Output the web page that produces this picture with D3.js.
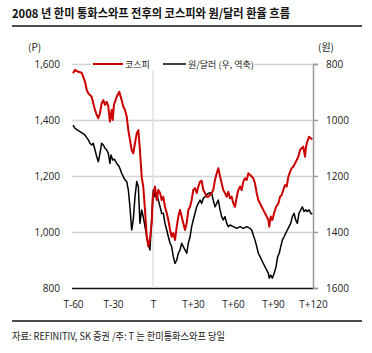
<!DOCTYPE html>
<html>
<head>
<meta charset="utf-8">
<script src="https://cdn.jsdelivr.net/npm/d3@7.9.0/dist/d3.min.js"></script>
<style>
  body { margin: 0; background: #fff; }
  svg { display: block; font-family: "Noto Sans CJK KR", "Noto Sans", sans-serif; }
</style>
</head>
<body>
<svg id="chart" width="372" height="353"></svg>
<script>
// days relative to swap date (T) and values
const kospiDays = [-60, -58.5, -56, -53.5, -51, -49.7, -48.5, -47.3, -46, -44.8, -43.5, -42.2, -41, -39.8, -38.5, -37.3, -36, -34.7, -33.5, -32.3, -31, -30.2, -29.3, -27.2, -25.3, -23.5, -22.3, -21, -19.7, -18.5, -17.3, -16, -14.8, -13.5, -12.2, -11, -9.8, -8.5, -7.3, -6, -4.7, -3.5, -2.3, -1, -0.2, 1.5, 2.8, 4, 5.3, 6.5, 7.7, 9, 10.3, 11.5, 12.8, 14, 15.2, 16.5, 17.8, 19, 20.3, 21.5, 22.7, 24, 25.3, 26.5, 27.8, 29, 30.2, 31.5, 32.8, 34, 35.3, 36.5, 37.7, 39, 40.3, 41.5, 42.8, 44, 45.2, 46.5, 47.8, 49, 50.3, 51.5, 52.7, 54, 55.3, 56.5, 57.8, 59, 60.2, 61.5, 62.8, 64, 65.3, 66.5, 67.7, 69, 70.3, 71.5, 72.8, 74, 75.2, 76.5, 77.8, 79, 80.3, 81.5, 82.7, 84, 85.3, 86.5, 87.2, 88.3, 89.5, 90.8, 92.3, 94, 95.3, 96.5, 97.7, 99, 100.3, 101.5, 102.8, 104, 105.2, 106.5, 107.8, 109, 110.3, 111.5, 112.7, 114, 114.8, 115.7, 117, 118.3, 119.5];
const kospi = [1567, 1579, 1572, 1569, 1537, 1507, 1495, 1489, 1483, 1460, 1436, 1418, 1406, 1424, 1460, 1471, 1454, 1465, 1448, 1394, 1436, 1400, 1454, 1483, 1501, 1471, 1448, 1436, 1412, 1364, 1329, 1293, 1281, 1317, 1352, 1364, 1293, 1198, 1162, 1079, 983, 948, 975, 1032, 1126, 1162, 1114, 1150, 1139, 1114, 1126, 1090, 1068, 1043, 1007, 983, 996, 971, 1019, 1055, 1079, 1055, 1032, 1007, 1032, 1079, 1090, 1114, 1150, 1157, 1139, 1162, 1180, 1183, 1150, 1139, 1126, 1126, 1132, 1139, 1150, 1186, 1210, 1228, 1198, 1174, 1150, 1139, 1126, 1144, 1120, 1126, 1103, 1090, 1126, 1150, 1162, 1150, 1180, 1192, 1186, 1210, 1204, 1198, 1192, 1174, 1138, 1114, 1102, 1090, 1079, 1067, 1055, 1043, 1019, 1055, 1043, 1067, 1090, 1102, 1126, 1132, 1150, 1168, 1162, 1198, 1215, 1228, 1233, 1245, 1257, 1269, 1293, 1299, 1305, 1269, 1305, 1323, 1340, 1335, 1331];

const krwDays = [-60, -58.5, -56, -53.5, -51, -48.5, -47.3, -46, -44.8, -43.5, -42.2, -41, -39.8, -38.5, -37.3, -36, -34.7, -33.5, -32.3, -31.5, -30.2, -29, -27.2, -25.3, -23.5, -22.3, -21, -19.7, -18.5, -17.3, -16, -14.8, -13.5, -12.2, -11, -9.8, -8.5, -7.3, -6, -4.7, -3.5, -2.3, -1, 0.2, 1.5, 2.8, 4, 5.3, 6.5, 7.7, 9, 10.3, 11.5, 12.8, 14, 15.2, 16.5, 17.8, 19, 20.3, 21.5, 22.7, 24, 25.3, 26.5, 27.8, 29, 30.2, 31.5, 32.8, 34, 35.3, 36.5, 37.7, 39, 40.3, 41.5, 42.8, 44, 45.2, 46.5, 47.8, 49, 50.3, 51.5, 52.7, 54, 55.3, 56.5, 57.8, 60.2, 62.8, 65.3, 67.7, 70.3, 72.8, 74, 75.2, 76.5, 77.8, 79, 80.3, 81.5, 82.7, 84, 85.3, 86.5, 87.2, 88.3, 89.5, 90.8, 92.3, 93.5, 94.7, 95.8, 97, 98.3, 99.5, 100.7, 102, 103.3, 104.5, 105.8, 107, 108.3, 109.5, 110.8, 112, 113.3, 114.5, 115.7, 117, 118.3, 119.5];
const krw = [1018, 1030, 1038, 1045, 1054, 1071, 1083, 1089, 1083, 1107, 1131, 1149, 1119, 1083, 1089, 1101, 1107, 1119, 1155, 1125, 1143, 1140, 1155, 1167, 1190, 1202, 1214, 1220, 1250, 1310, 1393, 1357, 1274, 1220, 1238, 1369, 1321, 1345, 1381, 1417, 1440, 1464, 1357, 1250, 1274, 1262, 1286, 1310, 1333, 1333, 1369, 1393, 1417, 1440, 1452, 1488, 1512, 1500, 1476, 1464, 1440, 1452, 1464, 1476, 1440, 1417, 1381, 1357, 1333, 1310, 1298, 1286, 1298, 1280, 1274, 1268, 1262, 1260, 1262, 1286, 1310, 1298, 1286, 1321, 1345, 1357, 1345, 1369, 1381, 1375, 1381, 1387, 1381, 1387, 1381, 1387, 1393, 1411, 1429, 1452, 1476, 1488, 1500, 1512, 1524, 1536, 1548, 1565, 1554, 1565, 1548, 1524, 1488, 1476, 1452, 1429, 1417, 1405, 1393, 1381, 1369, 1345, 1333, 1357, 1369, 1333, 1321, 1310, 1327, 1321, 1327, 1321, 1333, 1336];

const xTicks = [-60, -30, 0, 30, 60, 90, 120];
const xTickLabels = ["T-60", "T-30", "T", "T+30", "T+60", "T+90", "T+120"];
const leftTicks = [800, 1000, 1200, 1400, 1600];
const rightTicks = [800, 1000, 1200, 1400, 1600];

const title = "2008 년 한미 통화스와프 전후의 코스피와 원/달러 환율 흐름";
const source = "자료: REFINITIV, SK 증권 /주: T 는 한미통화스와프 당일";
const seriesNames = ["코스피", "원/달러 (우, 역축)"];

const svg = d3.select("#chart");
const plotL = 73, plotR = 313, plotT = 64, plotB = 288;

const x = d3.scaleLinear().domain([-60, 120]).range([plotL, plotR]);
const yL = d3.scaleLinear().domain([800, 1600]).range([plotB, plotT]);
const yR = d3.scaleLinear().domain([800, 1600]).range([plotT, plotB]);

// title and rules
svg.append("text").attr("x", 12).attr("y", 18)
  .attr("font-size", 12).attr("font-weight", "bold").attr("fill", "#111")
  .attr("textLength", 278).attr("lengthAdjust", "spacingAndGlyphs")
  .text(title);
svg.append("line").attr("x1", 12).attr("x2", 362).attr("y1", 26).attr("y2", 26)
  .attr("stroke", "#111").attr("stroke-width", 1.5);
svg.append("line").attr("x1", 12).attr("x2", 362).attr("y1", 321).attr("y2", 321)
  .attr("stroke", "#111").attr("stroke-width", 1.5);
svg.append("text").attr("x", 12).attr("y", 340)
  .attr("font-size", 10).attr("fill", "#222")
  .attr("textLength", 213).attr("lengthAdjust", "spacingAndGlyphs")
  .text(source);

// unit labels
svg.append("text").attr("x", 28).attr("y", 51).attr("font-size", 10).attr("fill", "#222").text("(P)");
svg.append("text").attr("x", 318).attr("y", 51).attr("font-size", 10).attr("fill", "#222").text("(원)");

// left axis with gridlines
const gL = svg.append("g").attr("transform", `translate(${plotL - 1},0)`)
  .call(d3.axisLeft(yL).tickValues(leftTicks).tickFormat(d3.format(","))
    .tickSize(-(plotR - plotL + 1)).tickPadding(12));
gL.select(".domain").remove();
gL.selectAll(".tick line").attr("stroke", "#d4d4d4").attr("stroke-width", 1.5);
gL.selectAll(".tick text").attr("font-size", 10).attr("fill", "#222")
  .attr("font-family", "'Open Sans', sans-serif");
gL.selectAll(".tick").filter(d => d === 800).select("line").attr("stroke", "#111");

// vertical line at T
svg.append("line").attr("x1", x(0)).attr("x2", x(0)).attr("y1", plotT).attr("y2", plotB)
  .attr("stroke", "#e0e0e0").attr("stroke-width", 1.5);

// right axis
const gR = svg.append("g").attr("transform", `translate(${plotR},0)`)
  .call(d3.axisRight(yR).tickValues(rightTicks).tickFormat(d3.format("d"))
    .tickSizeOuter(0).tickSize(5).tickPadding(8));
gR.select(".domain").attr("stroke", "#999").attr("stroke-width", 1.5);
gR.selectAll(".tick line").attr("stroke", "#999").attr("stroke-width", 1.5);
gR.selectAll(".tick text").attr("font-size", 10).attr("fill", "#222")
  .attr("font-family", "'Open Sans', sans-serif");

// x axis labels
const gX = svg.append("g").attr("transform", `translate(0,${plotB})`)
  .call(d3.axisBottom(x).tickValues(xTicks).tickFormat((d, i) => xTickLabels[i])
    .tickSize(0).tickPadding(13));
gX.select(".domain").remove();
gX.selectAll(".tick text").attr("font-size", 10).attr("fill", "#222")
  .attr("font-family", "'Open Sans', sans-serif");

// series
const lineL = d3.line().x(d => x(d[0])).y(d => yL(d[1]));
const lineR = d3.line().x(d => x(d[0])).y(d => yR(d[1]));
svg.append("path").datum(d3.zip(krwDays, krw)).attr("d", lineR)
  .attr("fill", "none").attr("stroke", "#000").attr("stroke-width", 1.5)
  .attr("stroke-linejoin", "round");
svg.append("path").datum(d3.zip(kospiDays, kospi)).attr("d", lineL)
  .attr("fill", "none").attr("stroke", "#cc0000").attr("stroke-width", 2)
  .attr("stroke-linejoin", "round");

// legend
const lg = svg.append("g");
lg.append("rect").attr("x", 91).attr("y", 58).attr("width", 163).attr("height", 12).attr("fill", "#fff");
lg.append("line").attr("x1", 93).attr("x2", 123).attr("y1", 64).attr("y2", 64)
  .attr("stroke", "#cc0000").attr("stroke-width", 2);
lg.append("text").attr("x", 125).attr("y", 67.5).attr("font-size", 9).attr("fill", "#222").text(seriesNames[0]);
lg.append("line").attr("x1", 163).attr("x2", 186).attr("y1", 64).attr("y2", 64)
  .attr("stroke", "#000").attr("stroke-width", 1.5);
lg.append("text").attr("x", 188).attr("y", 67.5).attr("font-size", 9).attr("fill", "#222").text(seriesNames[1]);
</script>
</body>
</html>
